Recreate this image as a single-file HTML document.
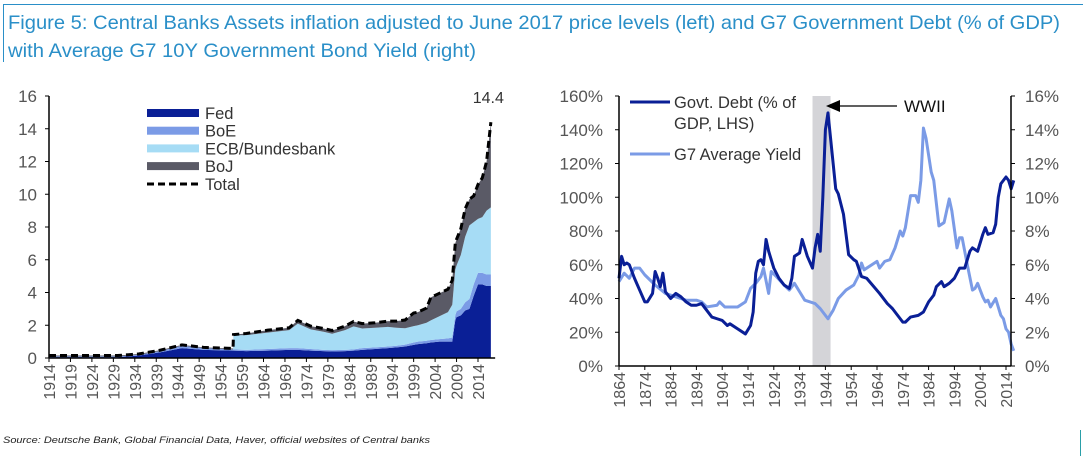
<!DOCTYPE html>
<html><head><meta charset="utf-8"><style>
body{margin:0;width:1083px;height:456px;background:#fff;overflow:hidden;font-family:"Liberation Sans",sans-serif;}
svg{position:absolute;left:0;top:0}
</style></head><body>
<svg width="1083" height="456">
<line x1="3" y1="4.5" x2="1083" y2="4.5" stroke="#2a8fc8" stroke-width="1"/>
<line x1="3.5" y1="4" x2="3.5" y2="62" stroke="#2a8fc8" stroke-width="1"/>
<text x="8" y="29" font-size="19.5" fill="#2a8fc8" textLength="1052" lengthAdjust="spacingAndGlyphs">Figure 5: Central Banks Assets inflation adjusted to June 2017 price levels (left) and G7 Government Debt (% of GDP)</text>
<text x="8" y="57" font-size="19.5" fill="#2a8fc8" textLength="468" lengthAdjust="spacingAndGlyphs">with Average G7 10Y Government Bond Yield (right)</text>
<text x="3" y="443" font-size="9.5" font-style="italic" fill="#222" textLength="427" lengthAdjust="spacingAndGlyphs">Source: Deutsche Bank, Global Financial Data, Haver, official websites of Central banks</text>
<line x1="1080.5" y1="430" x2="1080.5" y2="456" stroke="#2a9fa8"/>
<g id="left"></g>
<g id="right"></g>
</svg>
<script>
// ---- Left chart data ----
const lYears=[1914,1920,1925,1930,1935,1940,1945,1950,1956.9,1957,1960,1965,1970,1972,1975,1978,1980,1983,1985,1987,1990,1993,1995,1997,1999,2000,2002,2003,2005,2007,2008,2008.7,2009,2010,2011,2012,2013,2014,2015,2016,2017];
const fed=[0.05,0.05,0.05,0.05,0.15,0.35,0.6,0.5,0.45,0.45,0.42,0.45,0.5,0.5,0.45,0.42,0.4,0.42,0.45,0.5,0.55,0.6,0.65,0.7,0.8,0.85,0.9,0.95,1.0,1.0,1.0,2.3,2.5,2.6,2.9,3.0,3.8,4.5,4.5,4.4,4.4];
const boe=[0.05,0.05,0.05,0.05,0.05,0.08,0.15,0.1,0.08,0.08,0.08,0.1,0.1,0.1,0.1,0.08,0.08,0.08,0.08,0.1,0.1,0.1,0.1,0.12,0.15,0.15,0.15,0.15,0.15,0.2,0.25,0.3,0.35,0.4,0.5,0.6,0.7,0.7,0.7,0.7,0.7];
const ecb=[0,0,0,0,0,0,0,0,0,0.85,0.9,1.0,1.1,1.5,1.2,1.1,1.0,1.2,1.4,1.2,1.2,1.2,1.1,1.0,1.0,1.0,1.1,1.2,1.4,1.6,2.0,2.8,2.8,3.3,4.0,4.5,3.8,3.3,3.4,3.9,4.1];
const boj=[0.05,0.05,0.05,0.05,0.05,0.05,0.05,0.05,0.05,0.05,0.1,0.15,0.15,0.2,0.2,0.2,0.2,0.25,0.3,0.3,0.3,0.35,0.4,0.5,0.8,0.8,0.9,1.4,1.4,1.4,1.5,1.6,1.6,1.6,1.7,1.6,1.6,2.1,2.4,3.0,5.2];
const lYTicks=[0,2,4,6,8,10,12,14,16];
const lXTicks=[1914,1919,1924,1929,1934,1939,1944,1949,1954,1959,1964,1969,1974,1979,1984,1989,1994,1999,2004,2009,2014];
// ---- Right chart data ----
const dYears=[1864,1865,1866,1867,1868,1870,1872,1874,1875,1877,1878,1879,1880,1881,1882,1884,1886,1888,1890,1892,1894,1896,1898,1900,1902,1904,1906,1907,1910,1913,1915,1916,1917,1918,1919,1920,1921,1922,1924,1926,1928,1930,1931,1932,1934,1935,1937,1939,1940,1941,1942,1943,1944,1945,1946,1948,1949,1951,1953,1955,1956,1958,1960,1965,1968,1970,1972,1974,1975,1977,1980,1982,1984,1986,1987,1989,1990,1992,1994,1996,1998,2000,2001,2003,2005,2006,2007,2009,2010,2011,2012,2014,2015,2016,2017];
const debt=[52,65,60,61,60,52,45,38,38,43,56,52,47,55,44,40,43,41,38,36,36,37,33,29,28,27,24,25,22,19,24,32,55,62,63,60,75,68,58,52,48,46,52,65,67,75,65,58,70,78,68,100,140,150,135,105,102,90,66,63,62,53,52,43,37,34,30,26,26,29,30,32,38,42,47,50,47,49,52,58,58,68,70,68,78,82,78,79,84,100,108,112,110,105,110];
const yYears=[1864,1866,1868,1870,1872,1874,1878,1882,1886,1890,1894,1896,1898,1902,1903,1905,1910,1913,1915,1917,1919,1920,1922,1923,1925,1928,1930,1932,1934,1936,1940,1942,1945,1947,1949,1952,1955,1957,1958,1959,1962,1964,1965,1967,1969,1971,1973,1974,1975,1977,1979,1980,1981,1982,1983,1985,1986,1988,1990,1992,1993,1995,1996,1997,1999,2001,2002,2003,2005,2006,2007,2008,2010,2012,2013,2014,2015,2016,2017];
const yieldV=[5,5.5,5.2,5.8,5.8,5.4,4.8,4.3,4.1,3.9,3.9,3.8,3.5,3.6,3.8,3.5,3.5,3.8,4.6,4.9,5.3,5.8,4.3,5.6,5.3,4.8,4.5,4.9,4.4,3.9,3.7,3.4,2.8,3.3,4.0,4.5,4.8,5.4,6.1,5.7,6.0,6.2,5.8,6.2,6.3,7.0,8.0,7.7,8.2,10.1,10.1,9.7,11.0,14.1,13.5,11.5,11.0,8.3,8.5,9.9,9.2,7.0,7.6,7.6,6.0,4.5,4.6,4.9,4.1,3.8,3.9,3.5,4.0,3.0,2.8,2.2,2.0,1.3,0.9];
const rLTicks=[0,20,40,60,80,100,120,140,160];
const rRTicks=[0,2,4,6,8,10,12,14,16];
const rXTicks=[1864,1874,1884,1894,1904,1914,1924,1934,1944,1954,1964,1974,1984,1994,2004,2014];
const wwii=[1939,1946];

const NS="http://www.w3.org/2000/svg";
function mk(p,t,a){const e=document.createElementNS(NS,t);for(const k in a)e.setAttribute(k,a[k]);p.appendChild(e);return e;}
// Left
const L=document.getElementById('left');
const lx=y=>49+(y-1914)*4.29, ly=v=>358-v*16.375;
const stacks=[fed,boe,ecb,boj], cols=['#0a1f96','#7b9be6','#a6dcf5','#5a5a66'], names=['fed-area','boe-area','ecb-area','boj-area'];
let base=lYears.map(()=>0);
stacks.forEach((s,i)=>{
  const top=base.map((b,j)=>b+s[j]);
  let d='M'+lYears.map((y,j)=>lx(y)+','+ly(top[j])).join('L');
  for(let j=lYears.length-1;j>=0;j--)d+='L'+lx(lYears[j])+','+ly(base[j]);
  const p=mk(L,'path',{d:d+'Z',fill:cols[i]});
  
  
  base=top;
});
const tl=mk(L,'polyline',{points:lYears.map((y,j)=>lx(y)+','+ly(base[j])).join(' '),fill:'none',stroke:'#000','stroke-width':3,'stroke-dasharray':'7,4'});


const lab=mk(L,'text',{x:lx(2017)+13,y:ly(base[base.length-1])-19,'font-size':16,fill:'#333','text-anchor':'end'});lab.textContent=base[base.length-1].toFixed(1);


let ax=mk(L,'line',{x1:49,y1:ly(16),x2:49,y2:358,stroke:'#000','stroke-width':1.5});


ax=mk(L,'line',{x1:49,y1:358,x2:lx(2018),y2:358,stroke:'#000','stroke-width':1.5});


lYTicks.forEach(v=>{mk(L,'line',{x1:45,x2:49,y1:ly(v),y2:ly(v),stroke:'#000'});
  const t=mk(L,'text',{x:37,y:ly(v)+6,'font-size':17,fill:'#555','text-anchor':'end'});t.textContent=v;
  
  });
lXTicks.forEach(v=>{const x=lx(v);mk(L,'line',{x1:x,x2:x,y1:358,y2:362,stroke:'#000'});
  const t=mk(L,'text',{transform:`translate(${x+6},364) rotate(-90)`,'font-size':16,fill:'#555','text-anchor':'end'});t.textContent=v;
  
  });
const leg=[['Fed','#0a1f96'],['BoE','#7b9be6'],['ECB/Bundesbank','#a6dcf5'],['BoJ','#5a5a66']];
leg.forEach((e,i)=>{const y=113+i*17.7;mk(L,'rect',{x:147,y:y-4,width:52,height:8,fill:e[1]});
  const t=mk(L,'text',{x:205,y:y+6,'font-size':16.5,fill:'#333'});t.textContent=e[0];
  
  });
mk(L,'line',{x1:147,x2:200,y1:184,y2:184,stroke:'#000','stroke-width':3,'stroke-dasharray':'7,4'});
let t=mk(L,'text',{x:205,y:190,'font-size':16.5,fill:'#333'});t.textContent='Total';


// Right
const R=document.getElementById('right');
const rx=y=>619+(y-1864)*2.58, ry=v=>366-v*1.6875, ryr=v=>366-v*16.875;
let sh=mk(R,'rect',{x:rx(wwii[0]),y:ry(160),width:rx(wwii[1])-rx(wwii[0]),height:ry(0)-ry(160),fill:'#d4d4d8'});


let pl=mk(R,'polyline',{points:yYears.map((y,j)=>rx(y)+','+ryr(yieldV[j])).join(' '),fill:'none',stroke:'#7b9be6','stroke-width':3,'stroke-linejoin':'round'});


pl=mk(R,'polyline',{points:dYears.map((y,j)=>rx(y)+','+ry(debt[j])).join(' '),fill:'none',stroke:'#0a1f96','stroke-width':3,'stroke-linejoin':'round'});


ax=mk(R,'line',{x1:619,y1:ry(160),x2:619,y2:366,stroke:'#000','stroke-width':1.5});


ax=mk(R,'line',{x1:1011,y1:ry(160),x2:1011,y2:366,stroke:'#000','stroke-width':1.5});


ax=mk(R,'line',{x1:619,y1:366,x2:1011,y2:366,stroke:'#000','stroke-width':1.5});


rLTicks.forEach(v=>{mk(R,'line',{x1:615,x2:619,y1:ry(v),y2:ry(v),stroke:'#000'});
  const t=mk(R,'text',{x:603,y:ry(v)+6,'font-size':17,fill:'#555','text-anchor':'end'});t.textContent=v+'%';
  
  });
rRTicks.forEach(v=>{mk(R,'line',{x1:1011,x2:1015,y1:ryr(v),y2:ryr(v),stroke:'#000'});
  const t=mk(R,'text',{x:1025,y:ryr(v)+6,'font-size':17,fill:'#555'});t.textContent=v+'%';
  
  });
rXTicks.forEach(v=>{const x=rx(v);mk(R,'line',{x1:x,x2:x,y1:366,y2:370,stroke:'#000'});
  const t=mk(R,'text',{transform:`translate(${x+6},372) rotate(-90)`,'font-size':16,fill:'#555','text-anchor':'end'});t.textContent=v;
  
  });
mk(R,'line',{x1:630,x2:670,y1:102,y2:102,stroke:'#0a1f96','stroke-width':3});
mk(R,'line',{x1:630,x2:670,y1:154,y2:154,stroke:'#7b9be6','stroke-width':3});
[['Govt. Debt (% of',108],['GDP, LHS)',129],['G7 Average Yield',160]].forEach(e=>{const t=mk(R,'text',{x:674,y:e[1],'font-size':16.5,fill:'#333'});t.textContent=e[0];
  
  });
mk(R,'line',{x1:897,x2:840,y1:106,y2:106,stroke:'#000','stroke-width':1.2});
mk(R,'polygon',{points:'826,106 840,100 840,112',fill:'#000'});
t=mk(R,'text',{x:904,y:112,'font-size':17,fill:'#111'});t.textContent='WWII';


</script>
</body></html>
